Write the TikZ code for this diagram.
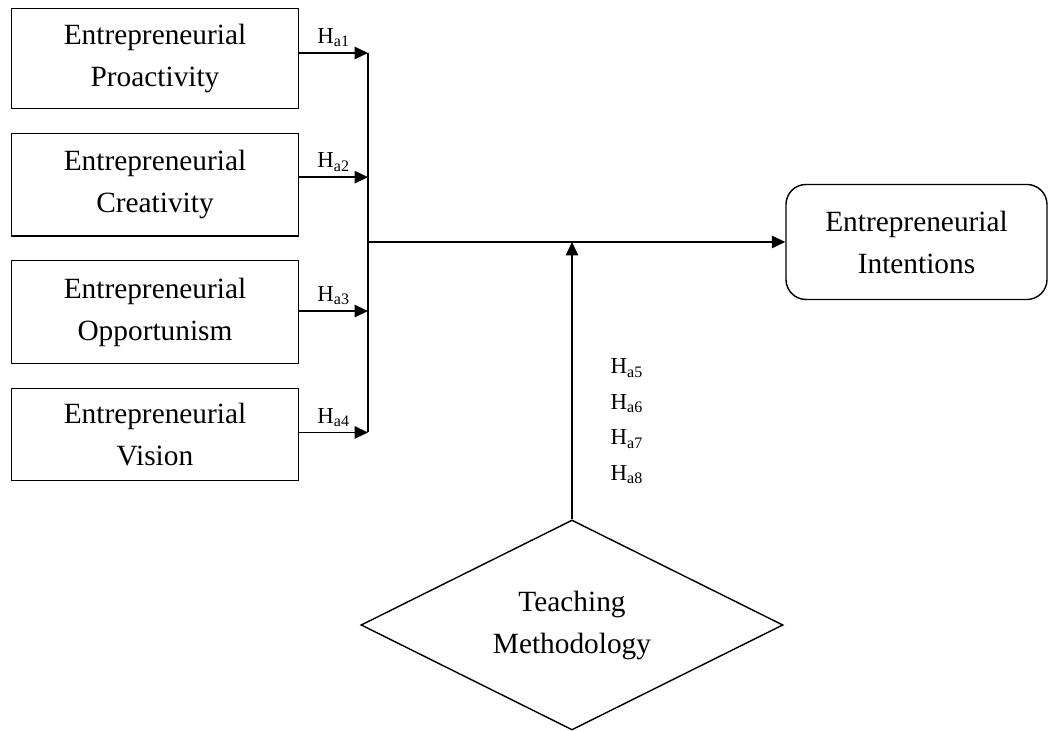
\documentclass[tikz,border=0pt]{standalone}
\usepackage{fontspec}
\setmainfont{Liberation Serif}
\usetikzlibrary{positioning,shapes.geometric,arrows.meta}

\begin{document}
\begin{tikzpicture}[
		line width=0.8pt,
		node distance=0.47cm,
		factor/.style={draw, minimum width=5.75cm, minimum height=2cm, inner sep=0pt,
			align=center, font=\fontsize{16.7}{23.9}\selectfont},
		arr/.style={-{Triangle[length=0.27cm,width=0.25cm]}},
		hyp/.style={above, inner sep=3pt, font=\fontsize{13}{15}\selectfont}
	]
		\useasboundingbox (0,0) rectangle (20.98,14.62);
		
		% 1. 左侧四个自变量方框（依次向下排列）
		\node [factor] (f_pro) at (3.1,13.45) {Entrepreneurial\\Proactivity};
		\node [factor, minimum height=2.05cm, below=of f_pro] (f_cre) {Entrepreneurial\\Creativity};
		\node [factor, minimum height=2.05cm, below=of f_cre] (f_opp) {Entrepreneurial\\Opportunism};
		\node [factor, minimum height=1.85cm, below=of f_opp] (f_vis) {Entrepreneurial\\Vision};
		
		% 箭头的起点（略高于方框中线）
		\coordinate (a_pro) at ([yshift=0.11cm]f_pro.east);
		\coordinate (a_cre) at ([yshift=0.15cm]f_cre.east);
		\coordinate (a_opp) at ([yshift=0.02cm]f_opp.east);
		\coordinate (a_vis) at ([yshift=0.04cm]f_vis.east);
		
		% 2. 汇合点与右侧的结果方框
		\coordinate (j) at (7.36,9.78);
		\node [factor, rounded corners=0.4cm, minimum width=5.22cm, minimum height=2.3cm] (o_int) at (18.33,9.78) {Entrepreneurial\\Intentions};
		
		% 3. 下方的调节变量（菱形）
		\node [factor, diamond, shape aspect=2, minimum width=8.44cm, minimum height=4.2cm] (m_tm) at (11.44,2.12) {Teaching\\Methodology};
		\node [anchor=west, inner sep=0pt, align=left, font=\fontsize{13}{20.2}\selectfont] (h_tm) at (12.2,6.19)
			{H\textsubscript{a5}\\H\textsubscript{a6}\\H\textsubscript{a7}\\H\textsubscript{a8}};
		
		% 4. 连线
		\draw [arr] (a_pro) -- node[hyp] {H\textsubscript{a1}} (a_pro -| j);
		\draw [arr] (a_cre) -- node[hyp] {H\textsubscript{a2}} (a_cre -| j);
		\draw [arr] (a_opp) -- node[hyp] {H\textsubscript{a3}} (a_opp -| j);
		\draw [arr] (a_vis) -- node[hyp] {H\textsubscript{a4}} (a_vis -| j);
		\draw (a_pro -| j) -- (a_vis -| j);
		\draw [arr] (j) -- (o_int);
		\draw [arr] (m_tm) -- (m_tm |- j);
	\end{tikzpicture}
\end{document}
